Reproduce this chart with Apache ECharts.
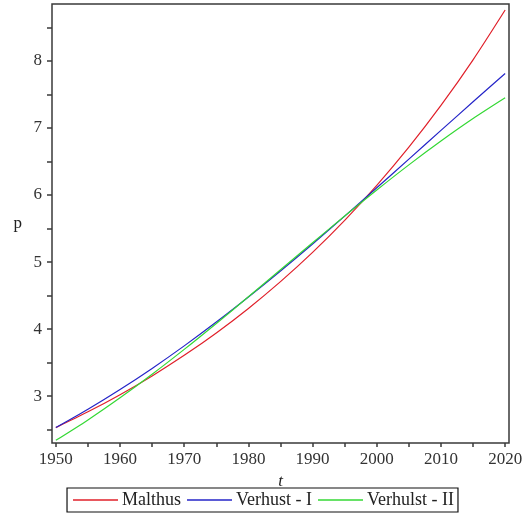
<!DOCTYPE html>
<html>
<head>
<meta charset="utf-8">
<script src="https://cdn.jsdelivr.net/npm/echarts@6/dist/echarts.min.js"></script>
<style>
  html, body { margin: 0; padding: 0; background: #fff; }
  #dv { width: 527px; height: 514px; }
</style>
</head>
<body>
<div id="dv"></div>
<script>
// years sampled every 5 years
const years = [1950, 1955, 1960, 1965, 1970, 1975, 1980, 1985, 1990, 1995, 2000, 2005, 2010, 2015, 2020]
const malthus = [2.53, 2.765, 3.021, 3.301, 3.608, 3.942, 4.308, 4.708, 5.144, 5.622, 6.144, 6.713, 7.336, 8.017, 8.76]
const verhulstOne = [2.53, 2.803, 3.098, 3.413, 3.749, 4.104, 4.478, 4.867, 5.27, 5.685, 6.108, 6.535, 6.964, 7.391, 7.812]
const verhulstTwo = [2.34, 2.645, 2.975, 3.326, 3.697, 4.084, 4.481, 4.884, 5.288, 5.686, 6.075, 6.45, 6.805, 7.14, 7.45]
const seriesNames = ['Malthus', 'Verhust - I', 'Verhulst - II']

const xLabels = [1950, 1960, 1970, 1980, 1990, 2000, 2010, 2020]
const xTicks = [1950, 1955, 1960, 1965, 1970, 1975, 1980, 1985, 1990, 1995, 2000, 2005, 2010, 2015, 2020]
const yLabels = [3, 4, 5, 6, 7, 8]
const yTicks = [2.5, 3, 3.5, 4, 4.5, 5, 5.5, 6, 6.5, 7, 7.5, 8, 8.5]

const colors = ['#e0202a', '#2424c8', '#34d834']
const serif = 'Liberation Serif'

const toPairs = vals => years.map((y, i) => [y, vals[i]])

const chart = echarts.init(document.getElementById('dv'))
chart.setOption({
  animation: false,
  backgroundColor: '#fff',
  grid: {
    left: 52,
    right: 18,
    top: 4,
    bottom: 71,
    show: true,
    borderColor: '#3a3a3a',
    borderWidth: 1.5,
    backgroundColor: 'transparent'
  },
  xAxis: {
    type: 'value',
    min: 1949.4,
    max: 2020.6,
    name: 't',
    nameLocation: 'middle',
    nameGap: 30,
    nameTextStyle: { fontFamily: serif, fontStyle: 'italic', fontSize: 17, color: '#222' },
    axisLine: { show: false },
    splitLine: { show: false },
    axisTick: { show: true, inside: false, length: 4, customValues: xTicks, lineStyle: { color: '#3a3a3a', width: 1.5 } },
    axisLabel: {
      customValues: xLabels,
      formatter: v => String(v),
      fontFamily: serif,
      fontSize: 17,
      color: '#333',
      margin: 8
    }
  },
  yAxis: {
    type: 'value',
    min: 2.3,
    max: 8.85,
    name: 'p',
    nameLocation: 'middle',
    nameRotate: 0,
    nameGap: 30,
    nameTextStyle: { fontFamily: serif, fontSize: 17, color: '#222', padding: [0, 0, -12, 0] },
    axisLine: { show: false },
    splitLine: { show: false },
    axisTick: { show: true, inside: false, length: 5, customValues: yTicks, lineStyle: { color: '#3a3a3a', width: 1.5 } },
    axisLabel: { customValues: yLabels, fontFamily: serif, fontSize: 17, color: '#333', margin: 10 }
  },
  legend: {
    data: seriesNames,
    left: 'center',
    bottom: 2,
    icon: 'rect',
    itemWidth: 45,
    itemHeight: 1.5,
    itemGap: 6,
    padding: [3, 4, 3, 6],
    borderColor: '#111',
    borderWidth: 1.2,
    backgroundColor: '#fff',
    textStyle: { fontFamily: serif, fontSize: 18, color: '#222', padding: [0, 0, 0, -1] }
  },
  series: [malthus, verhulstOne, verhulstTwo].map((vals, i) => ({
    name: seriesNames[i],
    type: 'line',
    data: toPairs(vals),
    smooth: 0.3,
    showSymbol: false,
    lineStyle: { color: colors[i], width: 1.2 },
    itemStyle: { color: colors[i] }
  }))
})
</script>
</body>
</html>
